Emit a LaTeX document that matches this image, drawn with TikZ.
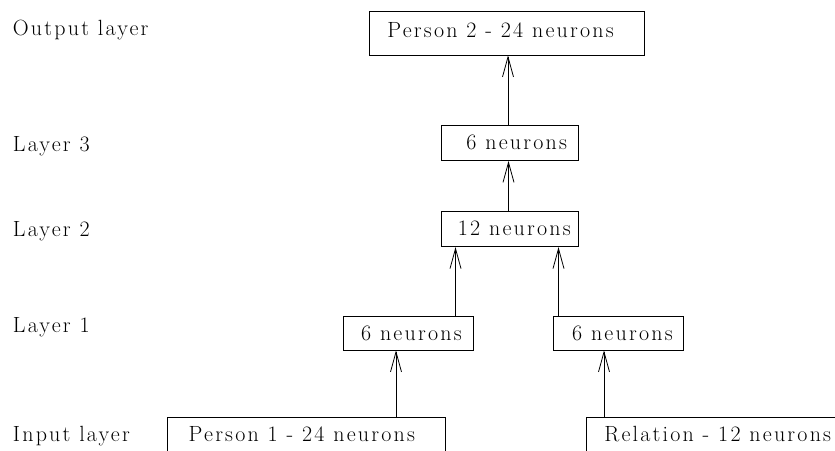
\documentclass[tikz,border=0pt]{standalone}
\usepackage{fontspec}
\setmainfont{Latin Modern Roman}[LetterSpace=10]
\usetikzlibrary{arrows.meta}
% fixed-width box content, text set in from the left edge
\newcommand\padtext[3]{\makebox[#1pt][l]{\hspace*{#2pt}#3}}
\begin{document}
\begin{tikzpicture}[x=1pt,y=-1pt,
  font=\fontsize{22}{26}\selectfont,
  lab/.style={anchor=base west,inner sep=0pt},
  box/.style={draw,line width=0.8pt,anchor=base west,inner sep=0pt},
  arr/.style={line width=0.8pt,-{Straight Barb[length=20pt,width=11pt,line width=0.8pt]}}]
\useasboundingbox (0,0) rectangle (835,450);
\clip (0,0) rectangle (835,450);
% layer names
\node[lab] (nout) at (12.7,35.7) {Output layer};
\node[lab] (nl3) at (12.7,151.7) {Layer 3};
\node[lab] (nl2) at (12.7,236.7) {Layer 2};
\node[lab] (nl1) at (12.7,332.5) {Layer 1};
\node[lab] (nin) at (12.7,441.7) {Input layer};
% neuron groups
\node[box,text height=26.7pt,text depth=17.3pt] (out) at (369,37.7) {\padtext{275}{18}{Person 2 - 24 neurons}};
\node[box,text height=24pt,text depth=11.5pt] (l3) at (441,149) {\padtext{137}{25}{6 neurons}};
\node[box,text height=23.3pt,text depth=11.7pt] (l2) at (441,235) {\padtext{137}{16.5}{12 neurons}};
\node[box,text height=24pt,text depth=9.3pt] (l1a) at (343,340.7) {\padtext{130}{17.7}{6 neurons}};
\node[box,text height=24pt,text depth=9.3pt] (l1b) at (553.3,340.7) {\padtext{130}{18.4}{6 neurons}};
\node[box,text height=23.5pt,text depth=30pt] (in1) at (167.3,441.2) {\padtext{278}{21}{Person 1 - 24 neurons}};
\node[box,text height=23.5pt,text depth=30pt] (in2) at (586,441.2) {\padtext{300}{18}{Relation - 12 neurons}};
% connections
\draw[arr] (l3.north -| 508,0) -- (out.south -| 508,0);
\draw[arr] (l2.north -| 508.5,0) -- (l3.south -| 508.5,0);
\draw[arr] (l1a.north -| 455.5,0) -- (l2.south -| 455.5,0);
\draw[arr] (l1b.north -| 558.5,0) -- (l2.south -| 558.5,0);
\draw[arr] (in1.north -| 396,0) -- (l1a.south -| 396,0);
\draw[arr] (in2.north -| 604,0) -- (l1b.south -| 604,0);
\end{tikzpicture}
\end{document}
